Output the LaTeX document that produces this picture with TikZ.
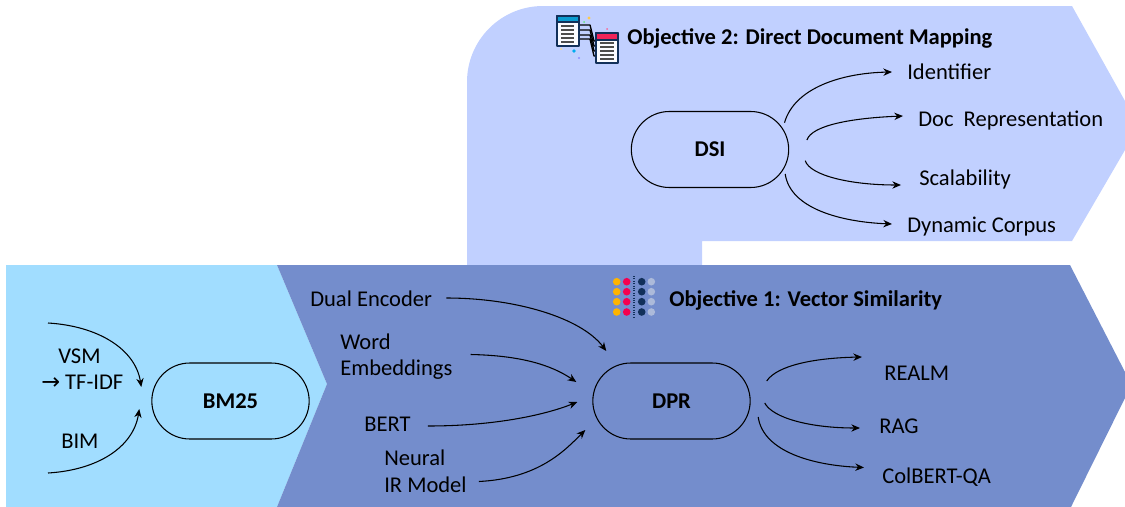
\documentclass[tikz,border=0pt]{standalone}
\usepackage{fontspec}
\setmainfont{Carlito}
\newfontfamily\symfont{DejaVu Sans}
\usetikzlibrary{shapes.misc,arrows.meta}
\definecolor{lavender}{RGB}{193,208,255}
\definecolor{steel}{RGB}{116,141,204}
\definecolor{sky}{RGB}{161,221,255}
\definecolor{navy}{RGB}{18,48,90}
\definecolor{dotamber}{RGB}{255,180,0}
\definecolor{dotred}{RGB}{245,0,79}
\definecolor{dotpale}{RGB}{172,186,218}
\definecolor{headblue}{RGB}{10,155,208}
\definecolor{headred}{RGB}{240,36,90}
\begin{document}
\begin{tikzpicture}[line join=round,>={Stealth[length=6.5pt,width=5.5pt]},x=.75pt,y=-.75pt]
		\tikzset{pill/.style={draw,rounded rectangle,line width=.8pt,minimum width=118pt,minimum height=57pt,inner sep=0pt,font=\fontsize{16.9}{20}\selectfont\bfseries}}
		\tikzset{item/.style={inner sep=0pt,anchor=west,align=left,font=\fontsize{16.9}{20}\selectfont}}
		\tikzset{headline/.style={inner sep=0pt,anchor=west,font=\fontsize{16.9}{20}\selectfont\bfseries}}
		\tikzset{flow/.style={->,line width=.8pt}}
		\useasboundingbox (0,0) rectangle (1125,507);
		\fill[lavender] (467,265)--(467,82) .. controls +(0,-42) and +(-42,0) .. (543,6)--(1072,6)--(1125,101)--(1125,150)--(1072,241)--(702,241)--(702,265)--cycle;
		\fill[sky] (6,265)--(277,265)--(327,384)--(277,507)--(6,507)--cycle;
		\fill[steel] (277,265)--(1070,265)--(1125,372)--(1125,398)--(1071,507)--(277,507)--(327,384)--cycle;
		
		\foreach \a/\b in {25/41,30/46,35/51,39/56}
		\draw[line width=1pt,black] (579,\a)--(590,\a)--(594,\b)--(596,\b);
		\draw[line width=.9pt,navy,fill=white!92!lavender] (557,16) rectangle (579,46);
		\draw[line width=.9pt,navy,fill=white!92!lavender] (596,33) rectangle (618,63);
		\draw[line width=.9pt,navy,fill=headblue] (557,16) rectangle (579,22);
		\draw[line width=.9pt,navy,fill=headred] (596,33) rectangle (618,40);
		\foreach \y in {26,30,34,38,42}
		\draw[line width=.9pt,black!70] (561,\y)--(574,\y);
		\foreach \y in {43,47,51,55,59}
		\draw[line width=.9pt,black!70] (600,\y)--(614,\y);
		\fill[cyan] (574,51) circle (1.8);
		\fill[dotamber!70] (589,18) circle (1.6);
		\fill[blue!45] (579,58) circle (1.2);
		\fill[dotred!60] (607,29) circle (1);
		\fill[dotamber!50] (561,49) circle (1);
		\fill[green!50!lavender] (584,22) circle (1);
		
		\foreach \y in {281.7,291.7,301.7,312} {
			\fill[dotamber] (616.7,\y) circle (3.8);
			\fill[dotred] (626.7,\y) circle (3.8);
			\fill[navy] (641.7,\y) circle (3.8);
			\fill[dotpale] (651.3,\y) circle (3.8);
		}
		\draw[densely dotted,line width=.8pt,navy] (634,276)--(634,318);
		
		\node[headline] (objtwo) at (627,38) {Objective 2: Direct Document Mapping};
		\node[headline] (objone) at (669,300) {Objective 1: Vector Similarity};
		
		\node[pill] (bmf) at (230.5,401) {BM25};
		\node[pill] (dpr) at (671.5,401) {DPR};
		\node[pill] (dsi) at (710,149.5) {DSI};
		
		\node[item] (vsm) at (58,356) {VSM};
		\node[item] (tfidf) at (41,382) {{\symfont →} TF-IDF};
		\node[item] (bim) at (61,441) {BIM};
		\node[item] (dual) at (310,299) {Dual Encoder};
		\node[item] (word) at (340,356.5) {Word\\Embeddings};
		\node[item] (bert) at (364,424) {BERT};
		\node[item] (neural) at (384,471.5) {Neural\\IR Model};
		\node[item] (realm) at (884,373) {REALM};
		\node[item] (rag) at (879,426) {RAG};
		\node[item] (colbert) at (882,477) {ColBERT-QA};
		\node[item] (ident) at (907,72) {Identifier};
		\node[item] (docrep) at (918,120.5) {Doc\ \ Representation};
		\node[item] (scal) at (919,179) {Scalability};
		\node[item] (dyn) at (907,226.5) {Dynamic Corpus};
		
		\coordinate (vsmstart) at (48,323);
		\coordinate (bimstart) at (48,473);
		\draw[flow] (vsmstart) .. controls +(50,3) and +(-6,-38) .. ([shift={(-10,-14)}]bmf.west);
		\draw[flow] (bimstart) .. controls +(50,-3) and +(-6,38) .. ([shift={(-12,8)}]bmf.west);
		
		\draw[flow] ([shift={(14,-1)}]dual.east) .. controls +(70,0) and +(-25,-33) .. ([shift={(14,-50)}]dpr.west);
		\draw[flow] ([shift={(18,-2)}]word.east) .. controls +(50,1) and +(-25,-17) .. ([shift={(-16,-19)}]dpr.west);
		\draw[flow] ([shift={(17,2)}]bert.east) .. controls +(70,0) and +(-30,12) .. ([shift={(-15,1)}]dpr.west);
		\draw[flow] ([shift={(12,10)}]neural.east) .. controls +(60,-3) and +(-20,20) .. ([shift={(-7,29)}]dpr.west);
		
		\draw[flow] ([shift={(16,-20)}]dpr.east) .. controls +(10,-15) and +(-50,1) .. ([shift={(-22,-16)}]realm.west);
		\draw[flow] ([shift={(14,2)}]dpr.east) .. controls +(8,15) and +(-50,0) .. ([shift={(-19,2)}]rag.west);
		\draw[flow] ([shift={(7.5,16)}]dpr.east) .. controls +(5,35) and +(-50,-2) .. ([shift={(-18,-9.5)}]colbert.west);
		
		\draw[flow] ([shift={(-4.7,-26.8)}]dsi.east) .. controls +(10,-35) and +(-50,1) .. ([shift={(-15,0)}]ident.west);
		\draw[flow] ([shift={(17.7,-9.5)}]dsi.east) .. controls +(5,-15) and +(-50,2) .. ([shift={(-15,-4.5)}]docrep.west);
		\draw[flow] ([shift={(16,11.2)}]dsi.east) .. controls +(5,15) and +(-50,0) .. ([shift={(-18,6)}]scal.west);
		\draw[flow] ([shift={(-4,24.5)}]dsi.east) .. controls +(5,35) and +(-50,-2) .. ([shift={(-15,-2.5)}]dyn.west);
		
		\end{tikzpicture}
\end{document}
